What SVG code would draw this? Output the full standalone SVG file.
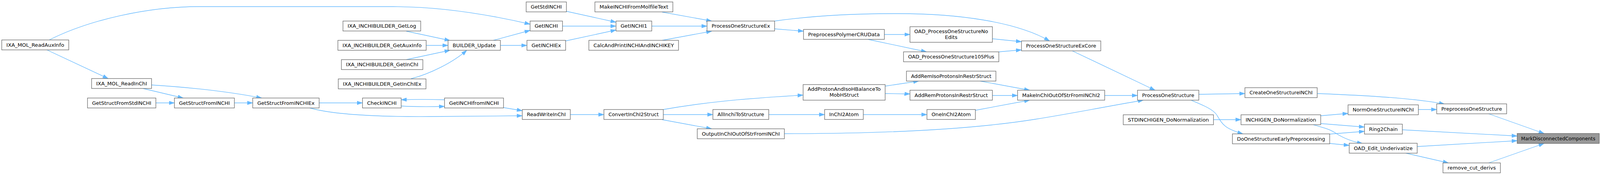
<svg xmlns="http://www.w3.org/2000/svg" width="4136" height="449" viewBox="0 0 4136 449">
<style>
.n rect{fill:#ffffff;stroke:#666666;stroke-width:1.3}
.root rect{fill:#999999}
.n text{font-family:"DejaVu Sans","Liberation Sans",sans-serif;font-size:13px;fill:#000000;text-anchor:middle}
.e path{fill:none;stroke:#63b8ff;stroke-width:1.3;marker-end:url(#ah)}
</style>
<defs>
<marker id="ah" markerUnits="userSpaceOnUse" markerWidth="14" markerHeight="10" viewBox="0 0 14 10" refX="14" refY="5" orient="auto">
<path d="M0,0.3 L14,5 L0,9.7 z" fill="#63b8ff" stroke="#63b8ff" stroke-width="0.8"/>
</marker>
</defs>
<rect width="4136" height="449" fill="#ffffff"/>
<g id="edges" class="e">
<path d="M125,103 C230,50 380,17 510,17 L1007,17 C1130,17 1250,37 1357,62"/>
<path d="M120,128 L277,201.5"/>
<path d="M366,227 L469,251.5"/>
<path d="M388,218 C500,225 600,238 670,251.5"/>
<path d="M399,264 L446.5,264"/>
<path d="M600,264 L647,264"/>
<path d="M817,264 L928,264"/>
<path d="M793,277 C850,293 950,300 1100,299 L1337,297"/>
<path d="M1027,272 C1060,274 1100,274 1138,273"/>
<path d="M1138,256 C1100,255 1060,255 1027,256"/>
<path d="M1289,276 L1337,284"/>
<path d="M1040,80 L1152,104"/>
<path d="M1091,116.5 L1147,116.5"/>
<path d="M1040,153 L1152,129"/>
<path d="M1052,202 C1100,190 1160,160 1195,129"/>
<path d="M1263,103.5 L1357,78"/>
<path d="M1281,116.5 L1349,116.5"/>
<path d="M1450,29 L1577,57"/>
<path d="M1440,67 L1577,67"/>
<path d="M1448,105 L1577,77"/>
<path d="M1695,31 L1822,54"/>
<path d="M1668,67 L1810,67"/>
<path d="M1695,103.5 L1822,80"/>
<path d="M1983,54 C2100,38 2200,35 2300,35 C2450,35 2600,55 2687,105"/>
<path d="M1983,74 L2057,80"/>
<path d="M2264,88.5 L2329.5,88.5"/>
<path d="M2222,101 L2372,133"/>
<path d="M2541,99.5 L2615,107"/>
<path d="M2557,133 L2615,128"/>
<path d="M2745,130.5 L2957,231.5"/>
<path d="M1698,281 C1800,263 1900,253 2056,244"/>
<path d="M1698,294 L1825,294"/>
<path d="M1695,307 L1822,330.5"/>
<path d="M1460,294 L1546,294"/>
<path d="M1968,294 L2111,294"/>
<path d="M2210,294 L2373,294"/>
<path d="M2266,221 L2352,208"/>
<path d="M2266,240 L2329.5,241"/>
<path d="M2509,208 L2636,231.5"/>
<path d="M2541,245 L2605,245"/>
<path d="M2497,283 L2636,257"/>
<path d="M2008,343 C2300,343 2500,330 2650,306 C2750,290 2850,270 2927,257"/>
<path d="M2828,245 L2912,245"/>
<path d="M3069,242 L3187,240"/>
<path d="M3049,257 C3080,270 3105,280 3115,295 C3130,320 3135,330 3182,343.5"/>
<path d="M3107,307 L3177,307"/>
<path d="M3372,240 C3500,245 3620,252 3698,267"/>
<path d="M3381,297 L3451,291"/>
<path d="M3381,317 L3493,326"/>
<path d="M3362,320 C3390,328 3405,332 3420,342 C3440,355 3465,364 3488,368"/>
<path d="M3404,344 L3493,337"/>
<path d="M3404,368 L3454,373"/>
<path d="M3631,281 L3678,281"/>
<path d="M3811,292 L3953,342.5"/>
<path d="M3590,333 L3884,349"/>
<path d="M3628,376 L3884,361"/>
<path d="M3599,393 L3708,418"/>
<path d="M3811,418 L3953,368"/>
</g>
<g id="n1" class="n"><rect x="4.5" y="102.5" width="171.5" height="25.5"/><text x="90.25" y="119.7" textLength="148" lengthAdjust="spacingAndGlyphs">IXA_MOL_ReadAuxInfo</text></g>
<g id="n2" class="n"><rect x="234.5" y="201.5" width="153.5" height="25.5"/><text x="311.25" y="218.7" textLength="130" lengthAdjust="spacingAndGlyphs">IXA_MOL_ReadInChI</text></g>
<g id="n3" class="n"><rect x="224" y="251.5" width="175" height="25.5"/><text x="311.5" y="268.7" textLength="151.5" lengthAdjust="spacingAndGlyphs">GetStructFromStdINCHI</text></g>
<g id="n4" class="n"><rect x="446.5" y="251.5" width="153.5" height="25.5"/><text x="523.25" y="268.7" textLength="130" lengthAdjust="spacingAndGlyphs">GetStructFromINCHI</text></g>
<g id="n5" class="n"><rect x="647" y="251.5" width="170" height="25.5"/><text x="732" y="268.7" textLength="146.5" lengthAdjust="spacingAndGlyphs">GetStructFromINCHIEx</text></g>
<g id="n6" class="n"><rect x="878" y="54" width="199" height="25.5"/><text x="977.5" y="71.2" textLength="175.5" lengthAdjust="spacingAndGlyphs">IXA_INCHIBUILDER_GetLog</text></g>
<g id="n7" class="n"><rect x="865" y="103.5" width="226" height="25.5"/><text x="978" y="120.7" textLength="202.5" lengthAdjust="spacingAndGlyphs">IXA_INCHIBUILDER_GetAuxInfo</text></g>
<g id="n8" class="n"><rect x="874" y="153" width="208.5" height="25.5"/><text x="978.25" y="170.2" textLength="185" lengthAdjust="spacingAndGlyphs">IXA_INCHIBUILDER_GetInChI</text></g>
<g id="n9" class="n"><rect x="866" y="202.5" width="224.5" height="25.5"/><text x="978.25" y="219.7" textLength="201" lengthAdjust="spacingAndGlyphs">IXA_INCHIBUILDER_GetInChIEx</text></g>
<g id="n10" class="n"><rect x="1147" y="103.5" width="134" height="25.5"/><text x="1214" y="120.7" textLength="110.5" lengthAdjust="spacingAndGlyphs">BUILDER_Update</text></g>
<g id="n11" class="n"><rect x="928" y="251.5" width="99" height="25.5"/><text x="977.5" y="268.7" textLength="75.5" lengthAdjust="spacingAndGlyphs">CheckINCHI</text></g>
<g id="n12" class="n"><rect x="1138" y="251.5" width="151" height="25.5"/><text x="1213.5" y="268.7" textLength="127.5" lengthAdjust="spacingAndGlyphs">GetINCHIfromINCHI</text></g>
<g id="n13" class="n"><rect x="1347" y="5" width="103" height="25.5"/><text x="1398.5" y="22.2" textLength="79.5" lengthAdjust="spacingAndGlyphs">GetStdINCHI</text></g>
<g id="n14" class="n"><rect x="1357" y="54" width="83" height="25.5"/><text x="1398.5" y="71.2" textLength="59.5" lengthAdjust="spacingAndGlyphs">GetINCHI</text></g>
<g id="n15" class="n"><rect x="1349" y="103.5" width="99" height="25.5"/><text x="1398.5" y="120.7" textLength="75.5" lengthAdjust="spacingAndGlyphs">GetINCHIEx</text></g>
<g id="n16" class="n"><rect x="1523" y="5" width="199.5" height="25.5"/><text x="1622.75" y="22.2" textLength="176" lengthAdjust="spacingAndGlyphs">MakeINCHIFromMolfileText</text></g>
<g id="n17" class="n"><rect x="1577" y="54" width="91.5" height="25.5"/><text x="1622.75" y="71.2" textLength="68" lengthAdjust="spacingAndGlyphs">GetINCHI1</text></g>
<g id="n18" class="n"><rect x="1507.5" y="103.5" width="229.5" height="25.5"/><text x="1622.25" y="120.7" textLength="206" lengthAdjust="spacingAndGlyphs">CalcAndPrintINCHIAndINCHIKEY</text></g>
<g id="n19" class="n"><rect x="1810" y="54" width="173" height="25.5"/><text x="1896.5" y="71.2" textLength="149.5" lengthAdjust="spacingAndGlyphs">ProcessOneStructureEx</text></g>
<g id="n20" class="n"><rect x="1337" y="281" width="123" height="25.5"/><text x="1398.5" y="298.2" textLength="99.5" lengthAdjust="spacingAndGlyphs">ReadWriteInChI</text></g>
<g id="n21" class="n"><rect x="1546" y="281" width="152" height="25.5"/><text x="1622" y="298.2" textLength="128.5" lengthAdjust="spacingAndGlyphs">ConvertInChI2Struct</text></g>
<g id="n22" class="n"><rect x="1825" y="281" width="143" height="25.5"/><text x="1896.5" y="298.2" textLength="119.5" lengthAdjust="spacingAndGlyphs">AllInchiToStructure</text></g>
<g id="n23" class="n"><rect x="1785" y="330.5" width="223" height="25.5"/><text x="1896.5" y="347.7" textLength="199.5" lengthAdjust="spacingAndGlyphs">OutputInChIOutOfStrFromINChI</text></g>
<g id="n24" class="n"><rect x="2057" y="75.5" width="207" height="25.5"/><text x="2160.5" y="92.7" textLength="183.5" lengthAdjust="spacingAndGlyphs">PreprocessPolymerCRUData</text></g>
<g id="n25" class="n"><rect x="2329.5" y="68.5" width="211" height="40"/><text x="2435" y="85" textLength="189" lengthAdjust="spacingAndGlyphs">OAD_ProcessOneStructureNo</text><text x="2435" y="99.5" textLength="32" lengthAdjust="spacingAndGlyphs">Edits</text></g>
<g id="n26" class="n"><rect x="2313" y="133" width="244" height="25.5"/><text x="2435" y="150.2" textLength="220.5" lengthAdjust="spacingAndGlyphs">OAD_ProcessOneStructure105Plus</text></g>
<g id="n27" class="n"><rect x="2615" y="105" width="203" height="25.5"/><text x="2716.5" y="122.2" textLength="179.5" lengthAdjust="spacingAndGlyphs">ProcessOneStructureExCore</text></g>
<g id="n28" class="n"><rect x="2320.5" y="182.5" width="229" height="25.5"/><text x="2435" y="199.7" textLength="205.5" lengthAdjust="spacingAndGlyphs">AddRemIsoProtonsInRestrStruct</text></g>
<g id="n29" class="n"><rect x="2056" y="217" width="210" height="40"/><text x="2161" y="233" textLength="187" lengthAdjust="spacingAndGlyphs">AddProtonAndIsoHBalanceTo</text><text x="2161" y="247.5" textLength="75" lengthAdjust="spacingAndGlyphs">MobHStruct</text></g>
<g id="n30" class="n"><rect x="2329.5" y="231.5" width="211" height="25.5"/><text x="2435" y="248.7" textLength="187.5" lengthAdjust="spacingAndGlyphs">AddRemProtonsInRestrStruct</text></g>
<g id="n31" class="n"><rect x="2111" y="281" width="99" height="25.5"/><text x="2160.5" y="298.2" textLength="75.5" lengthAdjust="spacingAndGlyphs">InChI2Atom</text></g>
<g id="n32" class="n"><rect x="2373" y="281" width="124" height="25.5"/><text x="2435" y="298.2" textLength="100.5" lengthAdjust="spacingAndGlyphs">OneInChI2Atom</text></g>
<g id="n33" class="n"><rect x="2605" y="231.5" width="223" height="25.5"/><text x="2716.5" y="248.7" textLength="199.5" lengthAdjust="spacingAndGlyphs">MakeInChIOutOfStrFromINChI2</text></g>
<g id="n34" class="n"><rect x="2912" y="231.5" width="157" height="25.5"/><text x="2990.5" y="248.7" textLength="133.5" lengthAdjust="spacingAndGlyphs">ProcessOneStructure</text></g>
<g id="n35" class="n"><rect x="3187" y="225" width="185" height="25.5"/><text x="3279.5" y="242.2" textLength="161.5" lengthAdjust="spacingAndGlyphs">CreateOneStructureINChI</text></g>
<g id="n36" class="n"><rect x="2875.5" y="294.5" width="231" height="25.5"/><text x="2991" y="311.7" textLength="207.5" lengthAdjust="spacingAndGlyphs">STDINCHIGEN_DoNormalization</text></g>
<g id="n37" class="n"><rect x="3177" y="294.5" width="204" height="25.5"/><text x="3279" y="311.7" textLength="180.5" lengthAdjust="spacingAndGlyphs">INCHIGEN_DoNormalization</text></g>
<g id="n38" class="n"><rect x="3155" y="343.5" width="249" height="25.5"/><text x="3279.5" y="360.7" textLength="225.5" lengthAdjust="spacingAndGlyphs">DoOneStructureEarlyPreprocessing</text></g>
<g id="n39" class="n"><rect x="3451" y="269" width="180" height="25.5"/><text x="3541" y="286.2" textLength="156.5" lengthAdjust="spacingAndGlyphs">NormOneStructureINChI</text></g>
<g id="n40" class="n"><rect x="3678" y="266.5" width="179" height="25.5"/><text x="3767.5" y="283.7" textLength="155.5" lengthAdjust="spacingAndGlyphs">PreprocessOneStructure</text></g>
<g id="n41" class="n"><rect x="3493" y="318.5" width="97" height="25.5"/><text x="3541.5" y="335.7" textLength="73.5" lengthAdjust="spacingAndGlyphs">Ring2Chain</text></g>
<g id="n42" class="n"><rect x="3454" y="367.5" width="174" height="25.5"/><text x="3541" y="384.7" textLength="150.5" lengthAdjust="spacingAndGlyphs">OAD_Edit_Underivatize</text></g>
<g id="n43" class="n"><rect x="3694" y="418" width="147" height="25.5"/><text x="3767.5" y="435.2" textLength="123.5" lengthAdjust="spacingAndGlyphs">remove_cut_derivs</text></g>
<g id="n44" class="n root"><rect x="3884" y="342.5" width="210" height="25.5"/><text x="3989" y="359.7" textLength="190" lengthAdjust="spacingAndGlyphs">MarkDisconnectedComponents</text></g>
</svg>
